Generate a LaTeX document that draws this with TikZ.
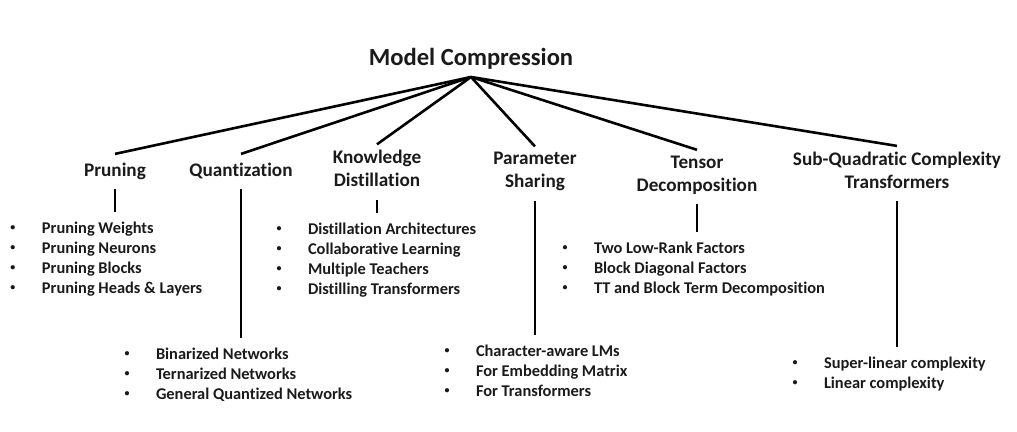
\documentclass[tikz,border=0pt]{standalone}
\usepackage{fontspec}
\setmainfont{Carlito}[Ligatures=NoCommon]
\usepackage{tikz}

\definecolor{ink}{HTML}{1A1A1A}
\tikzstyle{maintitle} = [font=\fontsize{24.6}{29}\selectfont\bfseries, text=ink, inner sep=0pt, outer ysep=8pt]
\tikzstyle{head}      = [font=\fontsize{19.2}{23}\selectfont\bfseries, text=ink, align=center, inner sep=0pt, outer ysep=6pt, execute at begin node=\strut, execute at end node=\strut]
\tikzstyle{items}     = [font=\fontsize{16.4}{20}\selectfont\bfseries, text=ink, inner sep=0pt, outer xsep=0pt, outer ysep=7pt, anchor=north west]
\tikzstyle{branch}    = [line width=2.6pt]
\tikzstyle{stem}      = [line width=2.8pt]

\newcommand{\bul}{\makebox[33pt][l]{\hspace{1.5pt}\raisebox{2.6pt}{\fontsize{10}{10}\selectfont\textbullet}}}

\begin{document}
\begin{tikzpicture}[x=1pt, y=-1pt]

    \useasboundingbox (0,0) rectangle (1017,431);

    \node (root)    [maintitle, anchor=south] at (471,77)  {Model Compression};

    \node (pruning) [head] at (115,171.4) {Pruning};
    \node (quant)   [head] at (241,171.4) {Quantization};
    \node (kd)      [head] at (377,172)   {Knowledge\\Distillation};
    \node (share)   [head] at (535,173.6) {Parameter\\Sharing};
    \node (tensor)  [head] at (697,177)   {Tensor\\Decomposition};
    \node (subq)    [head] at (897,173.6) {Sub-Quadratic Complexity\\Transformers};

    \node (prunelist)  [items] at (9,212)   {\begin{tabular}{@{}l@{}}\bul Pruning Weights\\ \bul Pruning Neurons\\ \bul Pruning Blocks\\ \bul Pruning Heads \& Layers\end{tabular}};
    \node (quantlist)  [items] at (123,338) {\begin{tabular}{@{}l@{}}\bul Binarized Networks\\ \bul Ternarized Networks\\ \bul General Quantized Networks\end{tabular}};
    \node (kdlist)     [items] at (275,213) {\begin{tabular}{@{}l@{}}\bul Distillation Architectures\\ \bul Collaborative Learning\\ \bul Multiple Teachers\\ \bul Distilling Transformers\end{tabular}};
    \node (sharelist)  [items] at (443,335) {\begin{tabular}{@{}l@{}}\bul Character-aware LMs\\ \bul For Embedding Matrix\\ \bul For Transformers\end{tabular}};
    \node (tensorlist) [items] at (561,232) {\begin{tabular}{@{}l@{}}\bul Two Low-Rank Factors\\ \bul Block Diagonal Factors\\ \bul TT and Block Term Decomposition\end{tabular}};
    \node (subqlist)   [items] at (791,347) {\begin{tabular}{@{}l@{}}\bul Super-linear complexity\\ \bul Linear complexity\end{tabular}};

    % fan out from the root
    \foreach \n in {pruning, quant, kd, share, tensor, subq}
        \draw [branch] (root.south) -- (\n.north);

    % stems down to the lists
    \draw [stem] (pruning.south) -- (pruning.south |- prunelist.north);
    \draw [stem] (quant.south)   -- (quant.south |- quantlist.north);
    \draw [stem] (kd.south)      -- (kd.south |- kdlist.north);
    \draw [stem] (share.south)   -- (share.south |- sharelist.north);
    \draw [stem] (tensor.south)  -- (tensor.south |- tensorlist.north);
    \draw [stem] (subq.south)    -- (subq.south |- subqlist.north);

\end{tikzpicture}
\end{document}
